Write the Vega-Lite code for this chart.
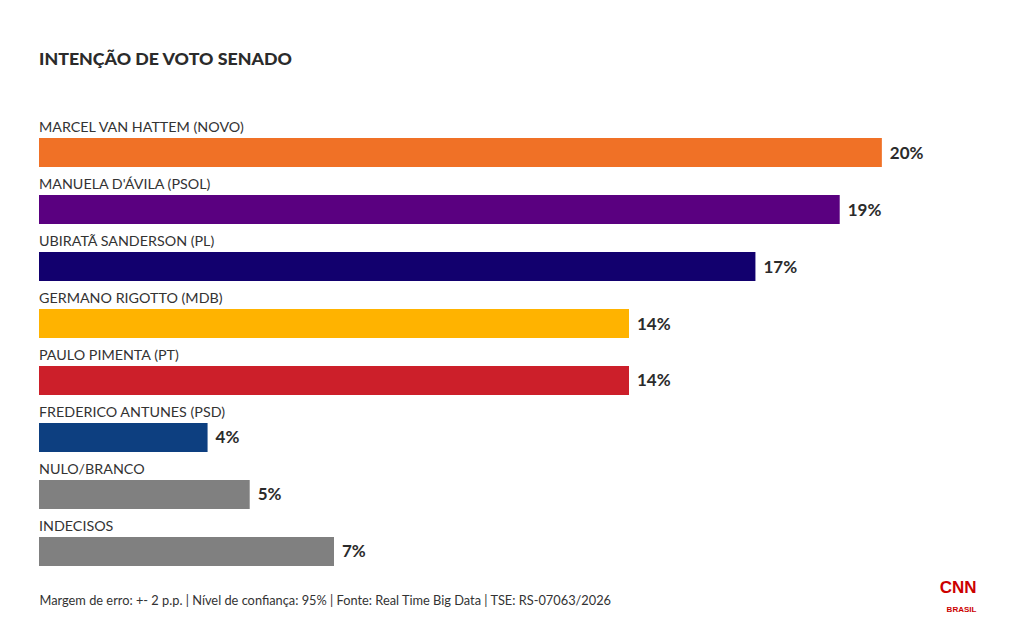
{
  "$schema": "https://vega.github.io/schema/vega-lite/v6.json",
  "autosize": {"type": "none"},
  "padding": {"left": 39, "top": 138, "right": 37, "bottom": 60},
  "width": 944,
  "height": 428,
  "background": "white",
  "config": {"view": {"stroke": null}, "font": "Lato"},
  "title": {
    "text": "INTENÇÃO DE VOTO SENADO",
    "anchor": "start",
    "frame": "group",
    "font": "Lato",
    "fontSize": 17.8,
    "fontWeight": 900,
    "color": "#2b2b2b",
    "baseline": "alphabetic",
    "offset": 38
  },
  "data": {
    "values": [
      {"name": "MARCEL VAN HATTEM (NOVO)", "value": 20},
      {"name": "MANUELA D'ÁVILA (PSOL)", "value": 19},
      {"name": "UBIRATÃ SANDERSON (PL)", "value": 17},
      {"name": "GERMANO RIGOTTO (MDB)", "value": 14},
      {"name": "PAULO PIMENTA (PT)", "value": 14},
      {"name": "FREDERICO ANTUNES (PSD)", "value": 4},
      {"name": "NULO/BRANCO", "value": 5},
      {"name": "INDECISOS", "value": 7}
    ]
  },
  "encoding": {
    "y": {
      "field": "name",
      "type": "nominal",
      "sort": null,
      "scale": {"paddingInner": 0.491, "paddingOuter": 0},
      "axis": {
        "orient": "right",
        "title": "BRASIL",
        "labels": false,
        "ticks": false,
        "domain": false,
        "grid": false,
        "titleAngle": 0,
        "titleX": -22,
        "titleY": 471,
        "titleAlign": "center",
        "titleBaseline": "middle",
        "titleColor": "#cc0000",
        "titleFont": "Liberation Sans",
        "titleFontSize": 8,
        "titleFontWeight": "bold"
      }
    }
  },
  "layer": [
    {
      "mark": {"type": "bar"},
      "encoding": {
        "x": {
          "field": "value",
          "type": "quantitative",
          "scale": {"domain": [0, 22.4], "nice": false, "zero": true},
          "axis": {
            "title": "Margem de erro: +- 2 p.p. | Nível de confiança: 95% | Fonte: Real Time Big Data | TSE: RS-07063/2026",
            "titleAnchor": "start",
            "titleAlign": "left",
            "titleX": 0,
            "titleY": 34,
            "titleBaseline": "middle",
            "titleFont": "Lato",
            "titleFontSize": 12.8,
            "titleFontWeight": "normal",
            "titleColor": "#333333",
            "values": [21.8],
            "labelExpr": "'CNN'",
            "labelFont": "Liberation Sans",
            "labelFontSize": 17,
            "labelFontWeight": "bold",
            "labelColor": "#cc0000",
            "labelBaseline": "top",
            "labelPadding": 13,
            "ticks": false,
            "domain": false,
            "grid": false
          }
        },
        "color": {
          "field": "name",
          "type": "nominal",
          "scale": {
            "domain": ["MARCEL VAN HATTEM (NOVO)", "MANUELA D'ÁVILA (PSOL)", "UBIRATÃ SANDERSON (PL)", "GERMANO RIGOTTO (MDB)", "PAULO PIMENTA (PT)", "FREDERICO ANTUNES (PSD)", "NULO/BRANCO", "INDECISOS"],
            "range": ["#f07126", "#5a0080", "#12006e", "#ffb300", "#cc1f2a", "#0d3f80", "#808080", "#808080"]
          },
          "legend": null
        }
      }
    },
    {
      "mark": {"type": "text", "align": "left", "baseline": "middle", "dy": -24.5, "fontSize": 14.3, "font": "Lato", "color": "#333333"},
      "encoding": {
        "x": {"datum": 0, "type": "quantitative"},
        "text": {"field": "name"}
      }
    },
    {
      "mark": {"type": "text", "align": "left", "baseline": "middle", "dx": 8, "dy": 1, "fontSize": 17, "font": "Lato", "fontWeight": "bold", "color": "#2b2b2b", "text": {"expr": "datum.value + '%'"}},
      "encoding": {
        "x": {"field": "value", "type": "quantitative"}
      }
    }
  ]
}
